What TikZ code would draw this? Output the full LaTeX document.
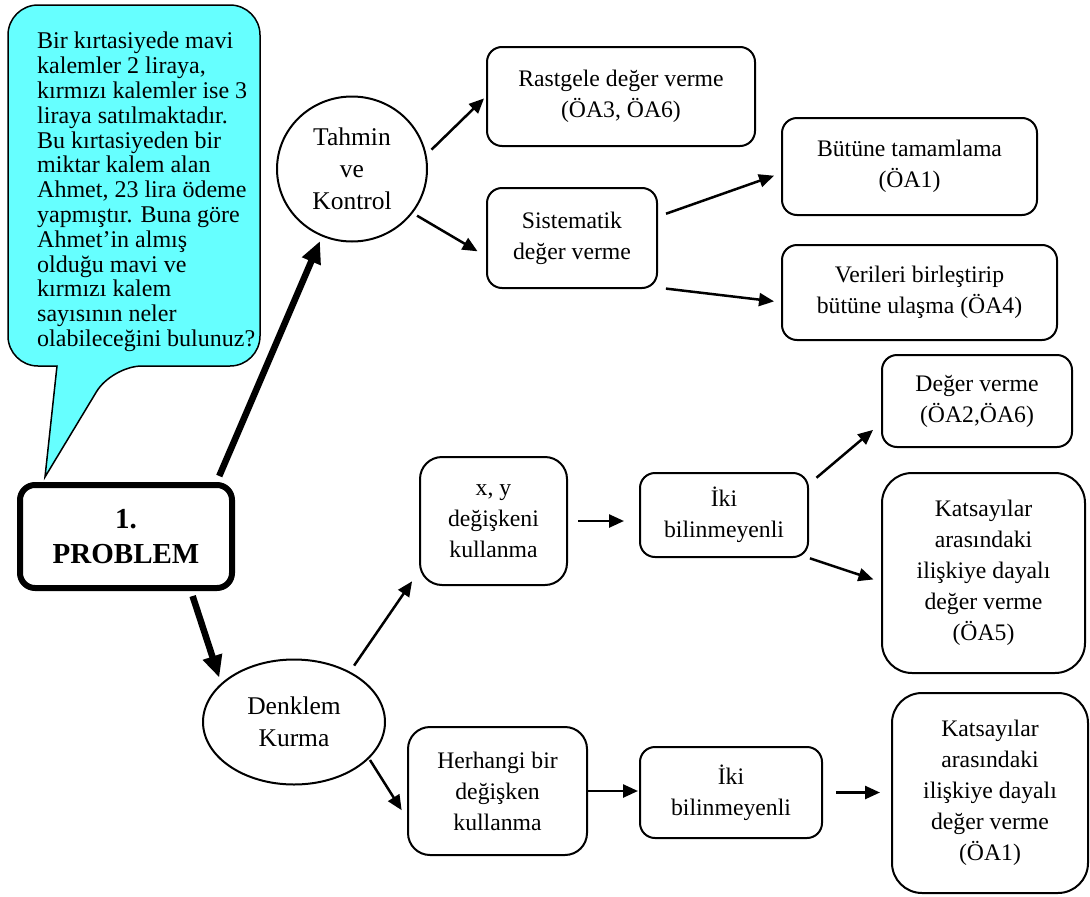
\documentclass[tikz,border=0pt]{standalone}
\usepackage{fontspec}
\setmainfont{Liberation Serif}
\usetikzlibrary{shapes.geometric,arrows.meta,calc}
\definecolor{balloon}{RGB}{102,255,255}

\begin{document}
\begin{tikzpicture}[
	x=1pt,y=-1pt,
	box/.style={draw,line width=2pt,rounded corners=15pt,align=center,inner sep=0pt,
		font=\fontsize{23.7}{31}\selectfont},
	oval/.style={draw,ellipse,line width=2pt,align=center,inner sep=0pt,
		font=\fontsize{25.5}{32}\selectfont},
	arr/.style={-{Triangle[length=15pt,width=13pt]},line width=2.5pt},
	bigarr/.style={-{Triangle[length=22pt,width=19pt]},line width=6.5pt}
	]
	\useasboundingbox (0,0) rectangle (1090,897);

	% speech balloon with the question
	\draw[fill=balloon,line width=1.5pt] (57,366) [rounded corners=30pt] -- (8,366) -- (8,5)
		-- (260,5) -- (260,366) -- (112,366) [sharp corners] -- (45,477) -- cycle;
	\node[anchor=north west,inner sep=0pt,align=left,font=\fontsize{24}{24.8}\selectfont]
		(Q) at (37,32) {Bir kırtasiyede mavi\\kalemler 2 liraya,\\kırmızı kalemler ise 3\\
		liraya satılmaktadır.\\Bu kırtasiyeden bir\\miktar kalem alan\\Ahmet, 23 lira ödeme\\
		yapmıştır. Buna göre\\Ahmet’in almış\\olduğu mavi ve\\kırmızı kalem\\
		sayısının neler\\olabileceğini bulunuz?};

	\node[box,line width=6pt,font=\bfseries\fontsize{29}{35}\selectfont,
		minimum width=212pt,minimum height=103pt] (P) at (126,536.5) {1.\\PROBLEM};

	\node[oval,minimum width=150pt,minimum height=145pt] (T) at (352,169) {Tahmin\\ve\\Kontrol};
	\node[oval,minimum width=182pt,minimum height=125pt] (D) at (294,722) {Denklem\\Kurma};

	% upper branch
	\node[box,minimum width=268pt,minimum height=99pt] (R) at (621,96.5) {Rastgele değer verme\\(ÖA3, ÖA6)};
	\node[box,minimum width=170pt,minimum height=100pt] (S) at (572,238) {Sistematik\\değer verme};
	\node[box,minimum width=255pt,minimum height=97pt] (B) at (909.5,166.5) {Bütüne tamamlama\\(ÖA1)};
	\node[box,minimum width=275pt,minimum height=95pt] (V) at (919.5,292.5) {Verileri birleştirip\\bütüne ulaşma (ÖA4)};

	% lower branch
	\node[box,rounded corners=22pt,minimum width=147pt,minimum height=128pt] (XY) at (493.5,521) {x, y\\değişkeni\\kullanma};
	\node[box,minimum width=168pt,minimum height=84pt] (I1) at (724,515) {İki\\bilinmeyenli};
	\node[box,minimum width=190pt,minimum height=92pt] (G) at (977,401) {Değer verme\\(ÖA2,ÖA6)};
	\node[box,rounded corners=30pt,minimum width=203pt,minimum height=200pt] (K1) at (983.5,573)
		{Katsayılar\\arasındaki\\ilişkiye dayalı\\değer verme\\(ÖA5)};
	\node[box,rounded corners=22pt,minimum width=179pt,minimum height=128pt] (H) at (497.5,791) {Herhangi bir\\değişken\\kullanma};
	\node[box,minimum width=182pt,minimum height=91pt] (I2) at (731,792.5) {İki\\bilinmeyenli};
	\node[box,rounded corners=30pt,minimum width=196pt,minimum height=200pt] (K2) at (990,793)
		{Katsayılar\\arasındaki\\ilişkiye dayalı\\değer verme\\(ÖA1)};

	\draw[bigarr,shorten <=6.5pt,shorten >=5pt] (P.31) -- (T.246);
	\draw[bigarr,shorten <=5.3pt,shorten >=6pt] (P.320) -- (D.152);

	\draw[arr,shorten <=7pt,shorten >=2.75pt] (T.11) -- (R.west);
	\draw[arr,shorten <=5pt,shorten >=9.8pt] (T.324) -- (S.192);
	\draw[arr,shorten <=8.5pt,shorten >=7.4pt] (S.14) -- (B.183);
	\draw[arr,shorten <=8pt,shorten >=7pt] (S.330) -- (V.184);

	\draw[arr,shorten <=7.3pt,shorten >=12.2pt] (D.42) -- (XY.214);
	\draw[arr,shorten <=1.6pt,shorten >=10pt] (D.334) -- (H.197);
	\draw[arr,shorten <=10pt,shorten >=15pt] (XY.east) -- (XY.east -| I1.west);
	\draw[arr,shorten <=9.8pt,shorten >=10.4pt] (I1.20) -- (G.193);
	\draw[arr,shorten <=1pt,shorten >=8pt] (I1.south east) -- (K1.185);
	\draw[arr,shorten >=1pt] (H.east) -- (H.east -| I2.west);
	\draw[arr,shorten <=13pt,shorten >=11pt] (I2.east) -- (I2.east -| K2.west);
\end{tikzpicture}
\end{document}
